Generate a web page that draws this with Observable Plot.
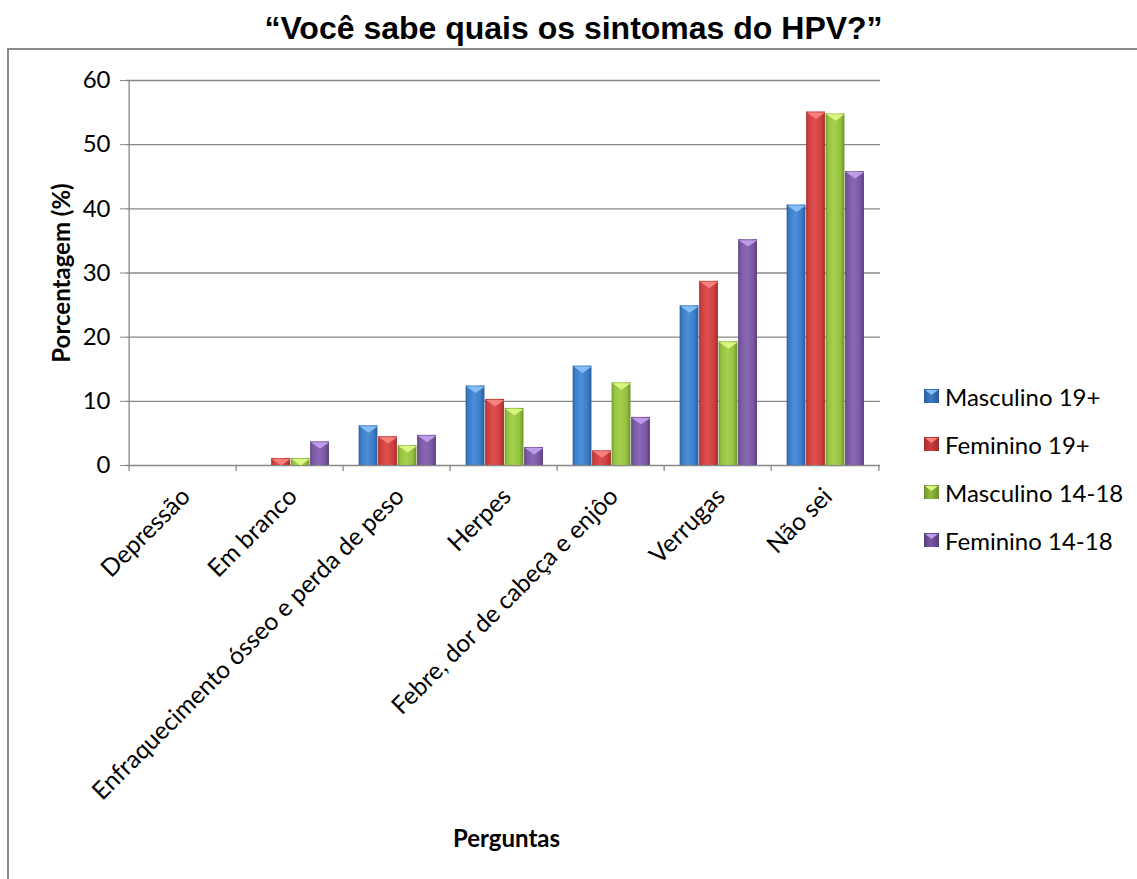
<!DOCTYPE html>
<html>
<head>
<meta charset="utf-8">
<script src="https://cdn.jsdelivr.net/npm/d3@7"></script>
<script src="https://cdn.jsdelivr.net/npm/@observablehq/plot@0.6"></script>
<style>
  body { margin: 0; background: #fff; }
  #wrap { position: relative; width: 1137px; height: 879px; overflow: hidden; background: #fff; }
  #title { position: absolute; left: 5px; top: 12px; width: 1137px; text-align: center;
           font: bold 32px "Liberation Sans", Arial, sans-serif; line-height: 32px; color: #000; }
  #border { position: absolute; left: 7px; top: 48px; width: 1140px; height: 840px;
            border-left: 2px solid #8a8a8a; border-top: 2px solid #8a8a8a; }
  #chart { position: absolute; left: 0; top: 0; }
  #legend { position: absolute; left: 924px; top: 382px; font: 24px Lato, sans-serif; color: #000; }
  .row { display: flex; align-items: center; height: 28px; margin-bottom: 20px; white-space: nowrap; }
  .row svg { margin-right: 6px; }
</style>
</head>
<body>
<div id="wrap">
  <div id="border"></div>
  <div id="chart"></div>
  <div id="title">“Você sabe quais os sintomas do HPV?”</div>
  <div id="legend"></div>
</div>
<script>
// ---- data ----
const categories = ["Depressão", "Em branco", "Enfraquecimento ósseo e perda de peso", "Herpes",
                    "Febre, dor de cabeça e enjôo", "Verrugas", "Não sei"];
const series = ["Masculino 19+", "Feminino 19+", "Masculino 14-18", "Feminino 14-18"];
const masculino19 = [0, 0, 6.2, 12.4, 15.5, 24.9, 40.6];
const feminino19  = [0, 1.1, 4.5, 10.3, 2.3, 28.7, 55.1];
const masculino14 = [0, 1.1, 3.1, 8.9, 12.9, 19.3, 54.8];
const feminino14  = [0, 3.7, 4.7, 2.8, 7.5, 35.2, 45.8];
const yTicks = [0, 10, 20, 30, 40, 50, 60];
const xTitle = "Perguntas";
const yTitle = "Porcentagem (%)";

// ---- styles ----
const palette = [
  {dark: "#2a5a98", base: "#3b7bc8", light: "#4d8fd8", tri: "#86bdf2"},
  {dark: "#9e2d2c", base: "#cf3e3d", light: "#dc5150", tri: "#f6807e"},
  {dark: "#6b8f2d", base: "#93c03d", light: "#a6d14f", tri: "#dbf583"},
  {dark: "#573c7a", base: "#7a57a3", light: "#8a69b4", tri: "#bd9de6"}
];

const values = [masculino19, feminino19, masculino14, feminino14];
const rows = series.flatMap((s, i) => values[i].map((v, j) => ({cat: categories[j], series: s, si: i, value: v})));

const W = 1137, H = 879, ML = 126, MR = 257, MT = 80, MB = 414;
const step = (W - ML - MR) / categories.length;
const barW = 19.5;
const groupOffset = (step - barW * series.length) / 2 + 0.8;

const bevel = {
  draw(context, size) {
    const r = Math.sqrt(size / Math.PI);
    context.moveTo(-r, 0);
    context.lineTo(r, 0);
    context.lineTo(0, r * 0.7);
    context.closePath();
  }
};

const barMarks = series.flatMap((s, i) => {
  const insetLeft = groupOffset + i * barW;
  const insetRight = step - insetLeft - barW;
  const data = rows.filter(d => d.si === i);
  return [
    Plot.barY(data, {x: "cat", y: "value", fill: `url(#grad${i})`, insetLeft, insetRight}),
    Plot.dot(data.filter(d => d.value > 0), {
      x: "cat", y: "value", symbol: bevel, r: barW / 2 - 0.5,
      fill: palette[i].tri, stroke: "none",
      dx: insetLeft + barW / 2 - step / 2, dy: 0.5
    })
  ];
});

const chart = Plot.plot({
  width: W, height: H,
  marginTop: MT, marginBottom: MB, marginLeft: ML, marginRight: MR,
  style: {fontFamily: "Lato, sans-serif", fontSize: "24px", color: "#000", background: "transparent"},
  x: {domain: categories, padding: 0, axis: null},
  y: {domain: [0, 60], label: null},
  marks: [
    Plot.gridY(yTicks, {stroke: "#888", strokeOpacity: 1, strokeWidth: 1.3}),
    Plot.ruleX([categories[0]], {dx: -step / 2, y1: 0, y2: 60, stroke: "#888", strokeWidth: 1.3}),
    Plot.ruleX(categories, {dx: -step / 2, y1: -0.95, y2: 0, stroke: "#888", strokeWidth: 1.3}),
    Plot.ruleX([categories[categories.length - 1]], {dx: step / 2, y1: -0.95, y2: 0, stroke: "#888", strokeWidth: 1.3}),
    Plot.axisY(yTicks, {tickSize: 6, tickPadding: 10, stroke: "#888", fill: "#000", label: null, fontSize: 24}),
    ...barMarks,
    Plot.text(categories, {
      x: d => d, text: d => d, frameAnchor: "bottom", rotate: -45,
      textAnchor: "end", lineAnchor: "middle", dx: 3, dy: 27, fontSize: 24.5, fill: "#000"
    }),
    Plot.text([yTitle], {text: d => d, frameAnchor: "left", dx: -64, rotate: -90,
      textAnchor: "middle", lineAnchor: "middle",
      fontWeight: "bold", fontSize: 24, fill: "#000"}),
    Plot.text([xTitle], {text: d => d, frameAnchor: "bottom", dy: 374, dx: 3,
      textAnchor: "middle", lineAnchor: "middle",
      fontWeight: "bold", fontSize: 24, fill: "#000"})
  ]
});

// gradient defs for the bevelled bars
const defs = d3.select(chart).insert("defs", ":first-child");
palette.forEach((p, i) => {
  const g = defs.append("linearGradient").attr("id", `grad${i}`)
    .attr("x1", "0").attr("x2", "1").attr("y1", "0").attr("y2", "0");
  [[0, p.dark], [0.12, p.base], [0.45, p.light], [0.8, p.base], [1, p.dark]]
    .forEach(([o, c]) => g.append("stop").attr("offset", o).attr("stop-color", c));
});
document.getElementById("chart").appendChild(chart);

// legend
const legend = document.getElementById("legend");
series.forEach((s, i) => {
  const p = palette[i];
  const row = document.createElement("div");
  row.className = "row";
  row.innerHTML = `<svg width="15" height="14" viewBox="0 0 15 14">
      <defs><linearGradient id="lg${i}" x1="0" x2="1"><stop offset="0" stop-color="${p.dark}"/><stop offset="0.4" stop-color="${p.base}"/><stop offset="1" stop-color="${p.dark}"/></linearGradient></defs>
      <rect x="0" y="0" width="15" height="14" fill="url(#lg${i})"/>
      <polygon points="1,1 14,1 7.5,6" fill="${p.tri}"/></svg><span>${s}</span>`;
  legend.appendChild(row);
});
</script>
</body>
</html>
